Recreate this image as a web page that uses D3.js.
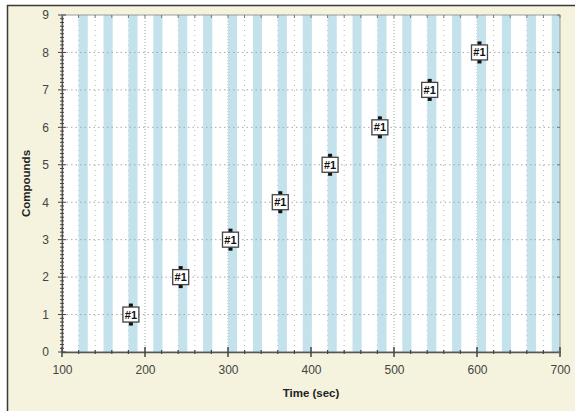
<!DOCTYPE html>
<html>
<head>
<meta charset="utf-8">
<script src="https://cdn.jsdelivr.net/npm/d3@7"></script>
<style>
  html, body { margin: 0; padding: 0; background: #ffffff; }
  svg { display: block; font-family: "Liberation Sans", Arial, sans-serif; }
</style>
</head>
<body>
<script>
// Sample arrival times and compound indices
const times = [183, 243, 303, 363, 423, 483, 543, 603];
const compounds = [1, 2, 3, 4, 5, 6, 7, 8];
const pointLabels = ["#1", "#1", "#1", "#1", "#1", "#1", "#1", "#1"];

// Shaded acquisition windows (start times, sec)
const bandStarts = [120, 150, 180, 210, 240, 270, 300, 330, 360, 390,
                    420, 450, 480, 510, 540, 570, 600, 630, 660, 690];
const bandWidth = 11;

// Axis ticks
const xTicks = [100, 200, 300, 400, 500, 600, 700];
const yTicks = [0, 1, 2, 3, 4, 5, 6, 7, 8, 9];

const W = 575, H = 411;
const margin = { left: 62, right: 15, top: 15, bottom: 59 };

const svg = d3.select("body").append("svg")
  .attr("width", W).attr("height", H);

// Outer panel
svg.append("rect").attr("x", 0).attr("y", 0).attr("width", W).attr("height", H).attr("fill", "#ffffff");
svg.append("rect").attr("x", 7.5).attr("y", 5.5).attr("width", W).attr("height", H)
  .attr("fill", "#f5f3dd").attr("stroke", "#3a3a3a").attr("stroke-width", 1.5);

const x = d3.scaleLinear().domain([100, 700]).range([margin.left, W - margin.right]);
const y = d3.scaleLinear().domain([0, 9]).range([H - margin.bottom, margin.top]);

const x0 = x.range()[0], x1 = x.range()[1];
const y0 = y.range()[0], y1 = y.range()[1];

const plot = svg.append("g");
plot.append("rect").attr("x", x0).attr("y", y1).attr("width", x1 - x0).attr("height", y0 - y1)
  .attr("fill", "#ffffff");

// Vertical grid: minor every 20 s, major every 100 s
const xMinor = d3.range(100, 701, 20);
plot.append("g").selectAll("line").data(xMinor.filter(v => v % 100 !== 0)).join("line")
  .attr("x1", d => x(d)).attr("x2", d => x(d)).attr("y1", y1).attr("y2", y0)
  .attr("stroke", "#b8b8b8").attr("stroke-width", 1).attr("stroke-dasharray", "1,4");
plot.append("g").selectAll("line").data(xTicks.slice(1, -1)).join("line")
  .attr("x1", d => x(d)).attr("x2", d => x(d)).attr("y1", y1).attr("y2", y0)
  .attr("stroke", "#a0a0a0").attr("stroke-width", 1).attr("stroke-dasharray", "1,2");

// Bands
const clip = svg.append("clipPath").attr("id", "plotclip").append("rect")
  .attr("x", x0).attr("y", y1).attr("width", x1 - x0).attr("height", y0 - y1);
plot.append("g").attr("clip-path", "url(#plotclip)")
  .selectAll("rect").data(bandStarts).join("rect")
  .attr("x", d => x(d)).attr("y", y1)
  .attr("width", d => x(d + bandWidth) - x(d)).attr("height", y0 - y1)
  .attr("fill", "#c3e2ec");

// Horizontal grid
plot.append("g").selectAll("line").data(yTicks.slice(1, -1)).join("line")
  .attr("x1", x0).attr("x2", x1).attr("y1", d => y(d)).attr("y2", d => y(d))
  .attr("stroke", "#a8a8a8").attr("stroke-width", 1).attr("stroke-dasharray", "1.5,3");

// Frame
plot.append("rect").attr("x", x0).attr("y", y1).attr("width", x1 - x0).attr("height", y0 - y1)
  .attr("fill", "none").attr("stroke", "#9a9a9a").attr("stroke-width", 1);

// Bottom axis
const gx = svg.append("g").attr("transform", `translate(0,${y0})`)
  .call(d3.axisBottom(x).tickValues(xTicks).tickSize(0).tickPadding(13).tickFormat(d3.format("d")));
gx.select(".domain").attr("stroke", "#555").attr("stroke-width", 1.3);
gx.selectAll("text").attr("font-size", 12).attr("fill", "#444");
gx.append("g").selectAll("line").data(xMinor).join("line")
  .attr("x1", d => x(d)).attr("x2", d => x(d))
  .attr("y1", d => d % 100 === 0 ? -5 : -2).attr("y2", d => d % 100 === 0 ? 5 : 2)
  .attr("stroke", "#444").attr("stroke-width", d => d % 100 === 0 ? 1.5 : 1.2);

// Left axis
const gy = svg.append("g").attr("transform", `translate(${x0},0)`)
  .call(d3.axisLeft(y).tickValues(yTicks).tickSize(0).tickPadding(13).tickFormat(d3.format("d")));
gy.select(".domain").attr("stroke", "#555").attr("stroke-width", 1.3);
gy.selectAll("text").attr("font-size", 12).attr("fill", "#444");
const yMinor = d3.range(0, 90.5, 1).map(v => v / 10);
gy.append("g").selectAll("line").data(yMinor).join("line")
  .attr("y1", d => y(d)).attr("y2", d => y(d))
  .attr("x1", d => Number.isInteger(d) ? -4 : -2).attr("x2", d => Number.isInteger(d) ? 4 : 2)
  .attr("stroke", "#444").attr("stroke-width", 1);

// Top and right inner ticks
svg.append("g").selectAll("line").data(xMinor).join("line")
  .attr("x1", d => x(d)).attr("x2", d => x(d)).attr("y1", y1).attr("y2", y1 + 3)
  .attr("stroke", "#777").attr("stroke-width", 1);
svg.append("g").selectAll("line").data(yTicks).join("line")
  .attr("x1", x1 - 3).attr("x2", x1).attr("y1", d => y(d)).attr("y2", d => y(d))
  .attr("stroke", "#777").attr("stroke-width", 1);

// Axis titles
svg.append("text").attr("x", (x0 + x1) / 2).attr("y", 397).attr("text-anchor", "middle")
  .attr("font-size", 11.5).attr("font-weight", "bold").attr("fill", "#222").text("Time (sec)");
svg.append("text").attr("transform", `translate(30,${(y0 + y1) / 2}) rotate(-90)`)
  .attr("text-anchor", "middle").attr("font-size", 11.5).attr("font-weight", "bold")
  .attr("fill", "#222").text("Compounds");

// Labelled markers
const pts = svg.append("g").selectAll("g").data(times.map((t, i) => ({ t, c: compounds[i], l: pointLabels[i] })))
  .join("g").attr("transform", d => `translate(${x(d.t)},${y(d.c)})`);
pts.append("rect").attr("x", -2).attr("y", -11).attr("width", 4).attr("height", 4).attr("fill", "#111");
pts.append("rect").attr("x", -2).attr("y", 7).attr("width", 4).attr("height", 4).attr("fill", "#111");
pts.append("rect").attr("x", -8).attr("y", -7.5).attr("width", 16).attr("height", 15)
  .attr("fill", "#ffffff").attr("stroke", "#444").attr("stroke-width", 1.3);
pts.append("text").attr("x", 0).attr("y", 4).attr("text-anchor", "middle")
  .attr("font-size", 11).attr("font-weight", "bold").attr("fill", "#111").text(d => d.l);
</script>
</body>
</html>
